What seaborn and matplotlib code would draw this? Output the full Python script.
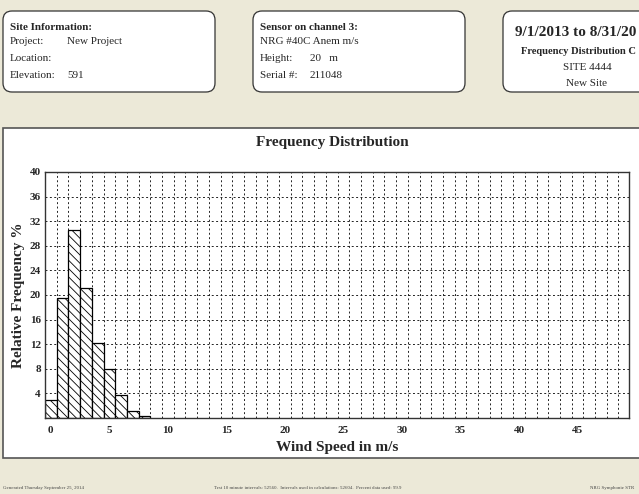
import numpy as np
import pandas as pd
import seaborn as sns
import matplotlib
matplotlib.use("Agg")
from matplotlib import pyplot as plt
from matplotlib.patches import FancyBboxPatch, Rectangle

# data
wind_speed = [0, 1, 2, 3, 4, 5, 6, 7, 8]
rel_freq = [3.0, 19.5, 30.6, 21.1, 12.2, 8.0, 3.7, 1.2, 0.4]
x_ticks = [0, 5, 10, 15, 20, 25, 30, 35, 40, 45]
y_ticks = [4, 8, 12, 16, 20, 24, 28, 32, 36, 40]

site_lines = [("Project:", "New Project"), ("Location:", ""), ("Elevation:", "591")]
sensor_lines = [("Height:", "20   m"), ("Serial #:", "211048")]
period_lines = ["SITE 4444", "New Site"]

df = pd.DataFrame({"speed": wind_speed, "freq": rel_freq})

sns.set_style("white")
plt.rcParams["font.family"] = ["Liberation Serif", "DejaVu Serif"]
plt.rcParams["hatch.linewidth"] = 0.6
plt.rcParams["hatch.color"] = "black"

fig = plt.figure(figsize=(6.39, 4.94), dpi=100)
fig.patch.set_facecolor("#ECE9D8")

# background layer in pixel coords
bg = fig.add_axes([0, 0, 1, 1], zorder=0)
bg.set_xlim(0, 639)
bg.set_ylim(494, 0)
bg.axis("off")

bg.add_patch(Rectangle((3, 128), 660, 330, fc="white", ec="#555555", lw=1.2))
for x0, w in [(3, 212), (253, 212), (503, 170)]:
    bg.add_patch(FancyBboxPatch((x0, 11), w, 81, boxstyle="round,pad=0,rounding_size=9",
                                fc="white", ec="#333333", lw=0.9))

fs = 8
bg.text(10, 27, "Site Information:", fontsize=fs, fontweight="bold", va="center")
for i, (k, v) in enumerate(site_lines):
    y = 42 + i * 16.5
    bg.text(10, y, k, fontsize=fs, va="center")
    bg.text(67, y, v, fontsize=fs, va="center")

bg.text(260, 27, "Sensor on channel 3:", fontsize=fs, fontweight="bold", va="center")
bg.text(260, 42, "NRG #40C Anem m/s", fontsize=fs, va="center")
for i, (k, v) in enumerate(sensor_lines):
    y = 58.5 + i * 16.5
    bg.text(260, y, k, fontsize=fs, va="center")
    bg.text(310, y, v, fontsize=fs, va="center")

# right box is cut by the image edge in the reference
bg.text(515, 32, "9/1/2013 to 8/31/20", fontsize=11, fontweight="bold", va="center")
bg.text(521, 52, "Frequency Distribution C", fontsize=7.6, fontweight="bold", va="center")
bg.text(587, 68, period_lines[0], fontsize=fs, va="center", ha="center")
bg.text(587, 84, period_lines[1], fontsize=fs, va="center", ha="center")

bg.text(332, 142, "Frequency Distribution", fontsize=11, fontweight="bold", ha="center", va="center")

foot = dict(fontsize=3.5, va="center", color="#444444")
bg.text(3, 488, "Generated Thursday September 25, 2014", **foot)
bg.text(214, 488, "Test 10 minute intervals: 52560.  Intervals used in calculations: 52604.  Percent data used: 99.9", **foot)
bg.text(590, 488, "NRG Symphonie STR", **foot)

# chart
ax = fig.add_axes([45 / 639, 1 - 418 / 494, (629 - 45) / 639, (418 - 172) / 494], zorder=1)
ax.set_facecolor("white")
sns.histplot(data=df, x="speed", weights="freq", discrete=True, shrink=1,
             color="white", edgecolor="black", linewidth=0.9, alpha=1, ax=ax)
for p in ax.patches:
    p.set_hatch("\\\\\\\\")
    p.set_facecolor("white")

ax.set_xlim(-0.5, 49.4)
ax.set_ylim(0, 40)
ax.set_xticks(x_ticks)
ax.set_xticks(np.arange(0.5, 49, 1), minor=True)
ax.set_yticks(y_ticks)
ax.grid(False)
ax.grid(True, which="minor", axis="x", color="#222222", lw=0.7, ls=(0, (2, 2.5)))
ax.grid(True, which="major", axis="y", color="#222222", lw=0.7, ls=(0, (2, 2.5)))
ax.set_axisbelow(True)
ax.tick_params(which="both", length=0)
ax.tick_params(axis="y", pad=3, labelsize=8)
ax.tick_params(axis="x", pad=6, labelsize=8)
for lab in ax.get_xticklabels() + ax.get_yticklabels():
    lab.set_fontweight("bold")
for s in ax.spines.values():
    s.set_color("#333333")
    s.set_linewidth(1)
ax.set_xlabel("Wind Speed in m/s", fontsize=11, fontweight="bold", labelpad=4)
ax.set_ylabel("Relative Frequency %", fontsize=11, fontweight="bold", labelpad=3)

fig.savefig("out.png", dpi=100, facecolor=fig.get_facecolor())
